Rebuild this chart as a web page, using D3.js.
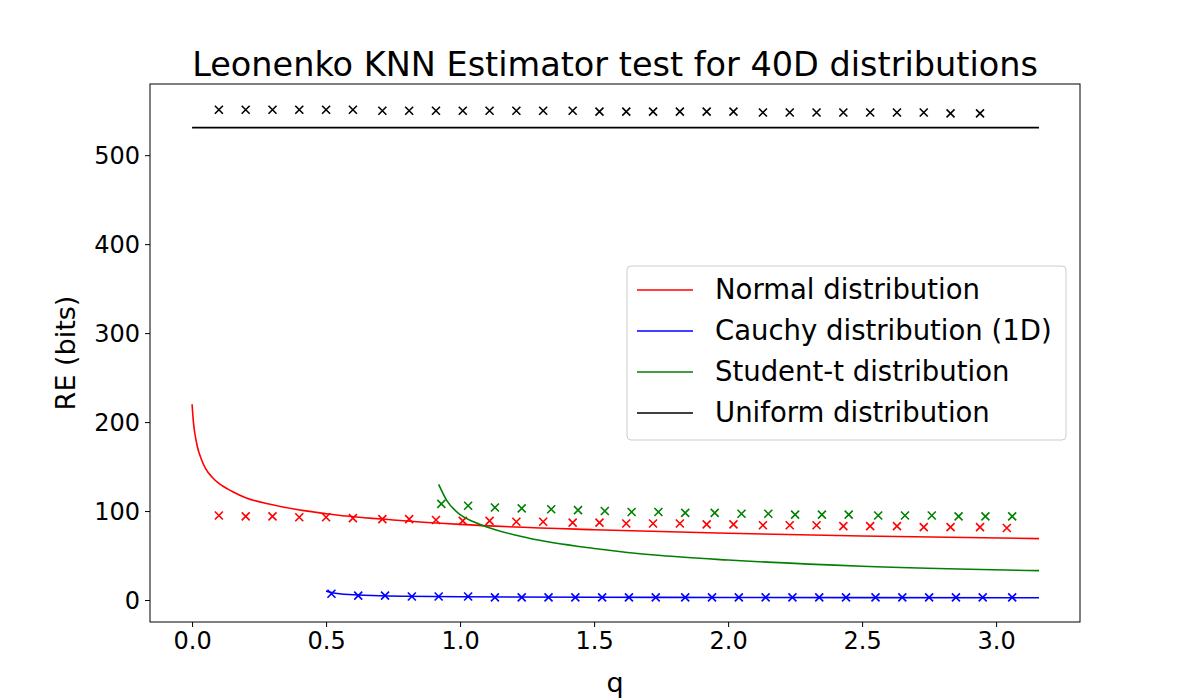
<!DOCTYPE html>
<html><head><meta charset="utf-8">
<script src="https://cdn.jsdelivr.net/npm/d3@7/dist/d3.min.js"></script>
<style>body{margin:0;background:#fff}text{font-family:"DejaVu Sans",sans-serif}</style>
</head><body>
<svg id="chart" width="1200" height="700"></svg>
<script>
// lines (q, RE)
const normalLineQ = [0, 0.005, 0.01, 0.02, 0.035, 0.05, 0.075, 0.1, 0.15, 0.2, 0.3, 0.5, 0.75, 1.0, 1.5, 2.0, 2.5, 3.16];
const normalLineV = [220, 200, 188, 172, 158, 148, 138, 131, 122, 115, 107, 97, 90, 85, 79, 75, 72, 69];
const cauchyLineQ = [0.5, 0.52, 0.55, 0.6, 0.7, 0.8, 1.0, 1.5, 2.0, 3.16];
const cauchyLineV = [10, 8.5, 7, 6, 4.8, 4.2, 3.6, 3.1, 2.9, 2.6];
const studentLineQ = [0.92, 0.95, 1.0, 1.05, 1.1, 1.25, 1.5, 1.75, 2.0, 2.5, 3.16];
const studentLineV = [130, 112, 96, 88, 82, 70, 58, 50, 45, 38, 33];
const uniformLineQ = [0, 3.16];
const uniformLineV = [531, 531];

// estimator markers
const normalQ = [0.1,0.2,0.3,0.4,0.5,0.6,0.71,0.81,0.91,1.01,1.11,1.21,1.31,1.42,1.52,1.62,1.72,1.82,1.92,2.02,2.13,2.23,2.33,2.43,2.53,2.63,2.73,2.83,2.94,3.04];
const normalV = [95,94,94,93,93,92,91,91,90,89,89,88,88,87,87,86,86,86,85,85,84,84,84,83,83,83,82,82,82,81];
const cauchyQ = [0.52,0.62,0.72,0.82,0.92,1.03,1.13,1.23,1.33,1.43,1.53,1.63,1.73,1.84,1.94,2.04,2.14,2.24,2.34,2.44,2.55,2.65,2.75,2.85,2.95,3.06];
const cauchyV = [7,5,5,4,4,4,3,3,3,3,3,3,3,3,3,3,3,3,3,3,3,3,3,3,3,3];
const studentQ = [0.93,1.03,1.13,1.23,1.34,1.44,1.54,1.64,1.74,1.84,1.95,2.05,2.15,2.25,2.35,2.45,2.56,2.66,2.76,2.86,2.96,3.06];
const studentV = [108,106,104,103,102,101,100,99,99,98,98,97,97,96,96,96,95,95,95,94,94,94];
const uniformQ = [0.1,0.2,0.3,0.4,0.5,0.6,0.71,0.81,0.91,1.01,1.11,1.21,1.31,1.42,1.52,1.62,1.72,1.82,1.92,2.02,2.13,2.23,2.33,2.43,2.53,2.63,2.73,2.83,2.94];
const uniformV = [551,551,551,551,551,551,550,550,550,550,550,550,550,550,549,549,549,549,549,549,548,548,548,548,548,548,548,547,547];

const xTicks = [0, 0.5, 1.0, 1.5, 2.0, 2.5, 3.0];
const yTicks = [0, 100, 200, 300, 400, 500];

const series = [
  {name:"Normal distribution", color:"red", lq:normalLineQ, lv:normalLineV, mq:normalQ, mv:normalV},
  {name:"Cauchy distribution (1D)", color:"blue", lq:cauchyLineQ, lv:cauchyLineV, mq:cauchyQ, mv:cauchyV},
  {name:"Student-t distribution", color:"green", lq:studentLineQ, lv:studentLineV, mq:studentQ, mv:studentV},
  {name:"Uniform distribution", color:"black", lq:uniformLineQ, lv:uniformLineV, mq:uniformQ, mv:uniformV}
];

const L = 150, R = 1080, T = 84, B = 622;
const svg = d3.select("#chart");
const x = d3.scaleLinear().domain([-0.157, 3.313]).range([L, R]);
const y = d3.scaleLinear().domain([-24.7, 580]).range([B, T]);

const g = svg.append("g");
series.forEach(s => {
  g.append("path")
    .attr("d", d3.line().curve(d3.curveMonotoneX).x((d,i)=>x(s.lq[i])).y((d,i)=>y(s.lv[i]))(s.lq))
    .attr("fill","none").attr("stroke", s.color).attr("stroke-width", 1.6);
  g.selectAll(null).data(s.mq).join("path")
    .attr("transform", (d,i)=>`translate(${x(d)},${y(s.mv[i])})`)
    .attr("d","M-4,-4L4,4M-4,4L4,-4")
    .attr("stroke", s.color).attr("stroke-width", 1.6);
});

svg.append("rect").attr("x",L).attr("y",T).attr("width",R-L).attr("height",B-T)
  .attr("fill","none").attr("stroke","black").attr("stroke-width",1);

const xa = svg.append("g").attr("transform",`translate(0,${B})`)
  .call(d3.axisBottom(x).tickValues(xTicks).tickFormat(d3.format(".1f")).tickSizeOuter(0).tickSize(5).tickPadding(5));
const ya = svg.append("g").attr("transform",`translate(${L},0)`)
  .call(d3.axisLeft(y).tickValues(yTicks).tickFormat(d3.format("d")).tickSizeOuter(0).tickSize(5).tickPadding(5));
[xa, ya].forEach(a => {
  a.select(".domain").remove();
  a.selectAll("text").attr("font-size", 24).attr("fill","black").attr("font-family","DejaVu Sans");
  a.selectAll("line").attr("stroke","black");
});
ya.selectAll("text").attr("dy","0.35em");

svg.append("text").attr("x",615).attr("y",76).attr("text-anchor","middle")
  .attr("font-size",33.5).text("Leonenko KNN Estimator test for 40D distributions");
svg.append("text").attr("x",615).attr("y",692).attr("text-anchor","middle")
  .attr("font-size",27).text("q");
svg.append("text").attr("transform","translate(75,353) rotate(-90)").attr("text-anchor","middle")
  .attr("font-size",27).text("RE (bits)");

const lg = svg.append("g").attr("transform","translate(627,266)");
lg.append("rect").attr("width",439).attr("height",174).attr("rx",4)
  .attr("fill","white").attr("fill-opacity",0.8).attr("stroke","#ccc");
series.forEach((s,i) => {
  const yy = 24 + i*41;
  lg.append("line").attr("x1",10).attr("x2",66).attr("y1",yy).attr("y2",yy)
    .attr("stroke",s.color).attr("stroke-width",1.6);
  lg.append("text").attr("x",88).attr("y",yy+9).attr("font-size",27.5).text(s.name);
});
</script>
</body></html>
